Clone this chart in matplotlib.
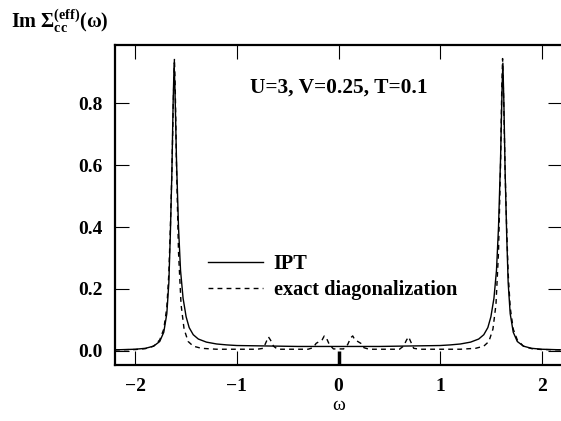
import matplotlib
matplotlib.use("Agg")
import matplotlib.pyplot as plt

plt.rcParams["font.family"] = "Liberation Serif"
plt.rcParams["font.weight"] = "bold"
plt.rcParams["mathtext.fontset"] = "custom"
plt.rcParams["mathtext.rm"] = "Liberation Serif:bold"
plt.rcParams["mathtext.it"] = "Liberation Serif:bold"
plt.rcParams["mathtext.bf"] = "Liberation Serif:bold"

# IPT self-energy
w_ipt = [-2.2, -2.0, -1.9, -1.82, -1.76, -1.72, -1.69, -1.67, -1.655, -1.64,
         -1.628, -1.618, -1.61, -1.595, -1.575, -1.555, -1.53, -1.50, -1.47,
         -1.43, -1.38, -1.3, -1.2, -1.1, -1.0, -0.8, -0.4, 0.0,
         0.4, 0.8, 1.0, 1.1, 1.2, 1.3, 1.38, 1.43, 1.47, 1.50, 1.53, 1.555,
         1.575, 1.595, 1.61, 1.618, 1.628, 1.64, 1.655, 1.67, 1.69, 1.72,
         1.76, 1.82, 1.9, 2.0, 2.2]
im_ipt = [0.003, 0.005, 0.008, 0.015, 0.03, 0.06, 0.12, 0.22, 0.38, 0.58,
          0.80, 0.93, 0.85, 0.62, 0.40, 0.26, 0.17, 0.11, 0.075,
          0.052, 0.038, 0.028, 0.022, 0.019, 0.017, 0.016, 0.014, 0.014,
          0.014, 0.016, 0.017, 0.019, 0.022, 0.028, 0.038, 0.052, 0.075, 0.11,
          0.17, 0.26, 0.40, 0.62, 0.85, 0.93, 0.80, 0.58, 0.38, 0.22, 0.12,
          0.06, 0.03, 0.015, 0.008, 0.005, 0.003]

# exact diagonalization
w_ed = [-2.2, -2.0, -1.9, -1.82, -1.76, -1.72, -1.69, -1.67, -1.655, -1.64,
        -1.625, -1.615, -1.607, -1.595, -1.575, -1.55, -1.52, -1.48, -1.43,
        -1.35, -1.2, -0.8, -0.74, -0.71, -0.69, -0.67, -0.64, -0.6, -0.3,
        -0.25, -0.22, -0.19, -0.16, -0.14, -0.12, -0.09, -0.05, 0.0,
        0.05, 0.09, 0.12, 0.14, 0.16, 0.19, 0.22, 0.25, 0.3, 0.6, 0.64, 0.67,
        0.69, 0.71, 0.74, 0.8, 1.2, 1.35, 1.43, 1.48, 1.52, 1.55, 1.575,
        1.595, 1.607, 1.615, 1.625, 1.64, 1.655, 1.67, 1.69, 1.72, 1.76,
        1.82, 1.9, 2.0, 2.2]
im_ed = [0.003, 0.004, 0.007, 0.015, 0.035, 0.07, 0.14, 0.25, 0.40, 0.58,
         0.82, 0.945, 0.85, 0.60, 0.32, 0.15, 0.07, 0.03, 0.015,
         0.008, 0.005, 0.005, 0.008, 0.03, 0.045, 0.035, 0.015, 0.005, 0.005,
         0.01, 0.024, 0.03, 0.036, 0.048, 0.042, 0.02, 0.006, 0.006,
         0.006, 0.02, 0.042, 0.048, 0.036, 0.03, 0.024, 0.01, 0.005, 0.005,
         0.015, 0.035, 0.045, 0.03, 0.008, 0.005, 0.005, 0.008, 0.015, 0.03,
         0.07, 0.15, 0.32, 0.60, 0.85, 0.945, 0.82, 0.58, 0.40, 0.25, 0.14,
         0.07, 0.035, 0.015, 0.007, 0.004, 0.003]

xticks = [-2, -1, 0, 1, 2]
yticks = [0.0, 0.2, 0.4, 0.6, 0.8]

fig = plt.figure(figsize=(5.61, 4.21), dpi=100)
ax = fig.add_axes([0.205, 0.133, 0.7968, 0.761])

ax.plot(w_ipt, im_ipt, color="black", lw=1.0, label="IPT")
ax.plot(w_ed, im_ed, color="black", lw=1.0, dashes=(3.5, 3),
        label="exact diagonalization")

ax.set_xlim(-2.2, 2.2)
ax.set_ylim(-0.046, 0.99)
ax.set_xticks(xticks)
ax.set_xticklabels(["\u22122", "\u22121", "0", "1", "2"])
ax.set_yticks(yticks)
ax.set_yticklabels(["%.1f" % v for v in yticks])
ax.tick_params(direction="in", length=10, width=0.8, labelsize=14, pad=9,
               top=True, right=True)
for s in ax.spines.values():
    s.set_linewidth(1.6)
# the zero tick on the bottom axis is drawn heavier
ax.xaxis.get_major_ticks()[2].tick1line.set_markeredgewidth(2.5)

ax.set_xlabel("\u03c9", fontsize=14, fontweight="normal", labelpad=2)
fig.text(11 / 561, 1 - 21 / 421,
         r"Im $\Sigma_{\mathrm{cc}}^{\mathrm{(eff)}}(\mathrm{\omega})$",
         fontsize=14.5, va="center", ha="left")

ax.text(0.301, 0.867, "U=3, V=0.25, T=0.1", transform=ax.transAxes,
        fontsize=15.4, ha="left", va="center")

ax.legend(loc="center left", bbox_to_anchor=(0.2076, 0.275), frameon=False,
          fontsize=14.6, handlelength=2.7, handletextpad=0.55,
          labelspacing=0.3, borderpad=0, borderaxespad=0)

fig.savefig("out.png", dpi=100)
